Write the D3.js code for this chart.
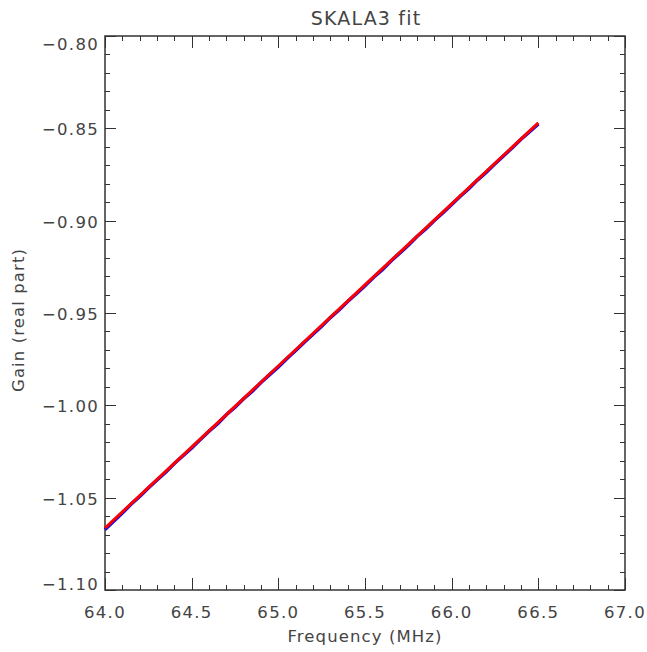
<!DOCTYPE html>
<html>
<head>
<meta charset="utf-8">
<script src="https://cdn.jsdelivr.net/npm/d3@7"></script>
<style>
  html, body { margin: 0; padding: 0; background: #fff; }
  text { font-family: "DejaVu Sans", sans-serif; fill: #444; }
</style>
</head>
<body>
<svg id="chart" width="647" height="652"></svg>
<script>
// Measured gain (real part) against frequency
const freqMHz = [
  64.00, 64.05, 64.10, 64.15, 64.20, 64.25, 64.30, 64.35, 64.40, 64.45,
  64.50, 64.55, 64.60, 64.65, 64.70, 64.75, 64.80, 64.85, 64.90, 64.95,
  65.00, 65.05, 65.10, 65.15, 65.20, 65.25, 65.30, 65.35, 65.40, 65.45,
  65.50, 65.55, 65.60, 65.65, 65.70, 65.75, 65.80, 65.85, 65.90, 65.95,
  66.00, 66.05, 66.10, 66.15, 66.20, 66.25, 66.30, 66.35, 66.40, 66.45,
  66.50
];
const gainMeasured = [
  -1.0672, -1.0628, -1.0583, -1.0536, -1.0494, -1.0448, -1.0404, -1.0362, -1.0315, -1.0273,
  -1.0231, -1.0185, -1.0140, -1.0099, -1.0051, -1.0010, -0.9964, -0.9923, -0.9876, -0.9834,
  -0.9792, -0.9746, -0.9703, -0.9658, -0.9615, -0.9572, -0.9525, -0.9484, -0.9438, -0.9396,
  -0.9352, -0.9306, -0.9265, -0.9218, -0.9176, -0.9133, -0.9086, -0.9045, -0.8999, -0.8957,
  -0.8912, -0.8868, -0.8826, -0.8779, -0.8737, -0.8692, -0.8648, -0.8605, -0.8559, -0.8518,
  -0.8476
];

// SKALA3 model fit
const fitFreqMHz = [64.0, 64.5, 65.0, 65.5, 66.0, 66.5];
const gainFit = [-1.0665, -1.0226, -0.9787, -0.9348, -0.8909, -0.8470];

// Axis ranges and tick labels
const xDomain = [64.0, 67.0];
const yDomain = [-1.10, -0.80];
const xMajorTicks = [64.0, 64.5, 65.0, 65.5, 66.0, 66.5, 67.0];
const xTickLabels = ["64.0", "64.5", "65.0", "65.5", "66.0", "66.5", "67.0"];
const yMajorTicks = [-1.10, -1.05, -1.00, -0.95, -0.90, -0.85, -0.80];
const yTickLabels = ["\u22121.10", "\u22121.05", "\u22121.00", "\u22120.95", "\u22120.90", "\u22120.85", "\u22120.80"];

const titleText = "SKALA3 fit";
const xTitle = "Frequency (MHz)";
const yTitle = "Gain (real part)";

(function draw() {
  const svg = d3.select("#chart");
  const pLeft = 105, pRight = 625, pTop = 36, pBottom = 590;
  const axisColor = "#333";

  const x = d3.scaleLinear().domain(xDomain).range([pLeft, pRight]);
  const y = d3.scaleLinear().domain(yDomain).range([pBottom, pTop]);

  const minorX = d3.range(0, 31).map(i => xDomain[0] + i * 0.1);
  const minorY = d3.range(0, 31).map(i => yDomain[0] + i * 0.01);

  const ticks = svg.append("g").attr("stroke", axisColor).attr("stroke-width", 1).attr("shape-rendering", "crispEdges");

  // inward ticks on all four sides
  minorX.forEach((v, i) => {
    const len = i % 5 === 0 ? 12 : 5;
    const px = Math.round(x(v)) + 0.5;
    ticks.append("line").attr("x1", px).attr("x2", px).attr("y1", pBottom).attr("y2", pBottom - len);
    ticks.append("line").attr("x1", px).attr("x2", px).attr("y1", pTop).attr("y2", pTop + len);
  });
  minorY.forEach((v, i) => {
    const len = i % 5 === 0 ? 11 : 5;
    const py = Math.round(y(v)) + 0.5;
    ticks.append("line").attr("x1", pLeft).attr("x2", pLeft + len).attr("y1", py).attr("y2", py);
    ticks.append("line").attr("x1", pRight).attr("x2", pRight - len).attr("y1", py).attr("y2", py);
  });

  // plot frame
  svg.append("rect")
    .attr("x", pLeft).attr("y", pTop)
    .attr("width", pRight - pLeft).attr("height", pBottom - pTop)
    .attr("fill", "none").attr("stroke", axisColor).attr("stroke-width", 1.5);

  // tick labels
  svg.append("g").selectAll("text").data(xMajorTicks).join("text")
    .attr("x", d => x(d)).attr("y", 618)
    .attr("text-anchor", "middle")
    .attr("font-size", 16.5).attr("letter-spacing", 1.3)
    .text((d, i) => xTickLabels[i]);

  svg.append("g").selectAll("text").data(yMajorTicks).join("text")
    .attr("x", 99)
    .attr("y", d => Math.min(Math.max(y(d) + 7, pTop + 14), pBottom))
    .attr("text-anchor", "end")
    .attr("font-size", 16.5).attr("letter-spacing", 1.3)
    .text((d, i) => yTickLabels[i]);

  // titles
  svg.append("text").attr("x", 366).attr("y", 25).attr("text-anchor", "middle")
    .attr("font-size", 19).attr("letter-spacing", 1.2).text(titleText);
  svg.append("text").attr("x", 365).attr("y", 642).attr("text-anchor", "middle")
    .attr("font-size", 16.5).attr("letter-spacing", 1.1).text(xTitle);
  svg.append("text").attr("transform", "translate(24,320) rotate(-90)").attr("text-anchor", "middle")
    .attr("font-size", 16.5).attr("letter-spacing", 1.1).text(yTitle);

  // data and fit
  const line = d3.line().x(d => x(d[0])).y(d => y(d[1]));
  svg.append("path")
    .datum(freqMHz.map((f, i) => [f, gainMeasured[i]]))
    .attr("d", line).attr("fill", "none")
    .attr("stroke", "#0000ff").attr("stroke-width", 3.5);
  svg.append("path")
    .datum(fitFreqMHz.map((f, i) => [f, gainFit[i]]))
    .attr("d", line).attr("fill", "none")
    .attr("stroke", "#ff0000").attr("stroke-width", 3);
})();
</script>
</body>
</html>
